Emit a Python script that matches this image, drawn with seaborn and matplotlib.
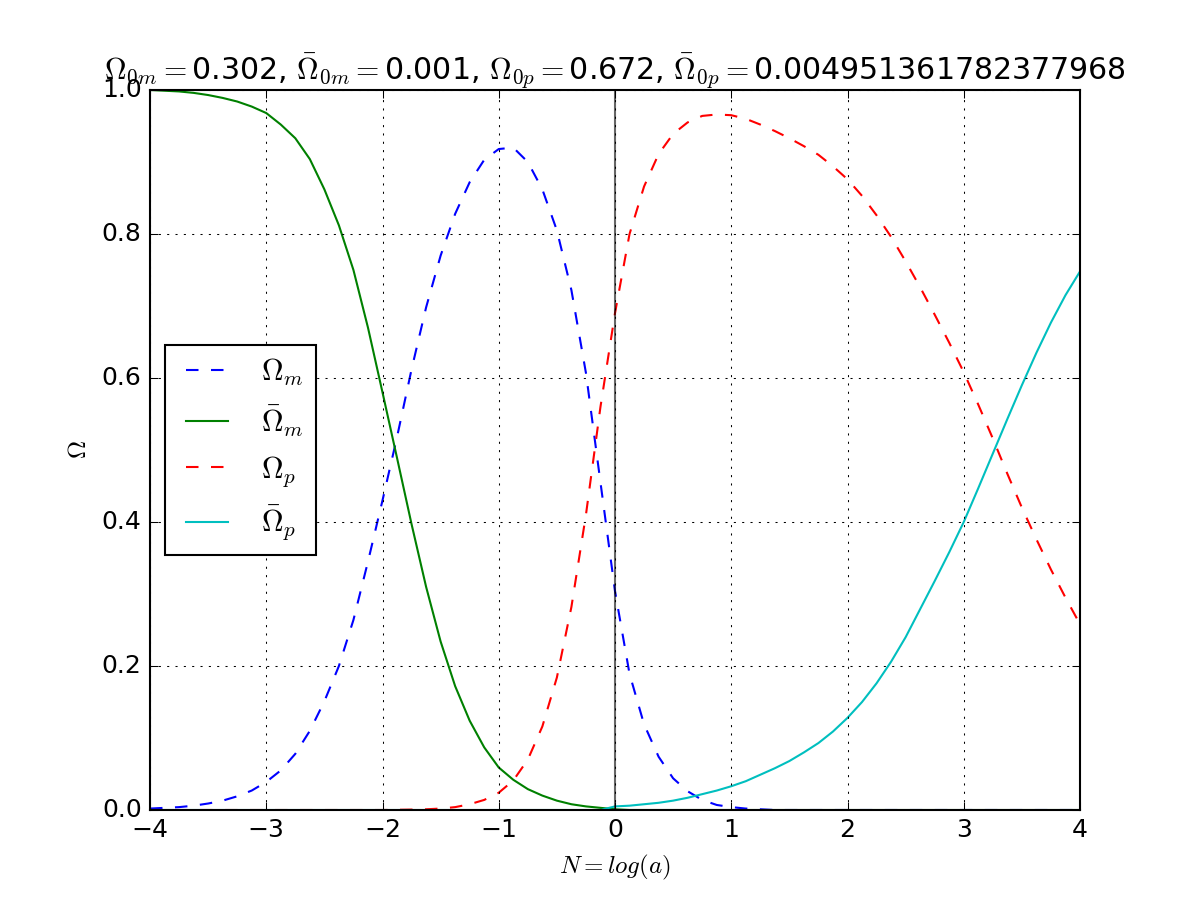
"""
Density parameters vs N = log(a): matter and phantom components and their barred partners.
"""
import matplotlib
matplotlib.use('Agg')
import matplotlib.pyplot as plt
import seaborn as sns

plt.style.use('classic')

n_vals = [-4, -3.875, -3.75, -3.625, -3.5, -3.375, -3.25, -3.125,
          -3, -2.875, -2.75, -2.625, -2.5, -2.375, -2.25, -2.125,
          -2, -1.875, -1.75, -1.625, -1.5, -1.375, -1.25, -1.125,
          -1, -0.875, -0.75, -0.625, -0.5, -0.375, -0.25, -0.125,
          0, 0.125, 0.25, 0.375, 0.5, 0.625, 0.75, 0.875,
          1, 1.125, 1.25, 1.375, 1.5, 1.625, 1.75, 1.875,
          2, 2.125, 2.25, 2.375, 2.5, 2.625, 2.75, 2.875,
          3, 3.125, 3.25, 3.375, 3.5, 3.625, 3.75, 3.875, 4]

omega_m = [0.002, 0.003, 0.004, 0.006, 0.009, 0.013, 0.019, 0.027,
           0.039, 0.055, 0.078, 0.110, 0.151, 0.200, 0.264, 0.345,
           0.430, 0.518, 0.612, 0.698, 0.770, 0.828, 0.872, 0.903,
           0.918, 0.920, 0.900, 0.862, 0.805, 0.722, 0.607, 0.455,
           0.304, 0.189, 0.119, 0.074, 0.044, 0.026, 0.014, 0.007,
           0.004, 0.002, 0.001, 0, 0, 0, 0, 0,
           0, 0, 0, 0, 0, 0, 0, 0,
           0, 0, 0, 0, 0, 0, 0, 0, 0]

omega_bar_m = [1.000, 0.999, 0.998, 0.996, 0.993, 0.989, 0.984, 0.977,
               0.968, 0.952, 0.933, 0.904, 0.862, 0.812, 0.750, 0.670,
               0.580, 0.489, 0.397, 0.310, 0.234, 0.172, 0.124, 0.087,
               0.059, 0.042, 0.029, 0.020, 0.013, 0.008, 0.005, 0.003,
               0.001, 0, 0, 0, 0, 0, 0, 0,
               0, 0, 0, 0, 0, 0, 0, 0,
               0, 0, 0, 0, 0, 0, 0, 0,
               0, 0, 0, 0, 0, 0, 0, 0, 0]

omega_p = [0, 0, 0, 0, 0, 0, 0, 0,
           0, 0, 0, 0, 0, 0, 0, 0,
           0, 0.0003, 0.0006, 0.001, 0.002, 0.004, 0.008, 0.014,
           0.024, 0.041, 0.070, 0.116, 0.184, 0.282, 0.410, 0.560,
           0.690, 0.800, 0.866, 0.911, 0.939, 0.955, 0.964, 0.966,
           0.965, 0.960, 0.952, 0.943, 0.933, 0.922, 0.910, 0.894,
           0.876, 0.853, 0.826, 0.796, 0.762, 0.726, 0.688, 0.649,
           0.608, 0.563, 0.516, 0.467, 0.420, 0.376, 0.334, 0.295, 0.258]

omega_bar_p = [0, 0, 0, 0, 0, 0, 0, 0,
               0, 0, 0, 0, 0, 0, 0, 0,
               0, 0, 0, 0, 0, 0, 0, 0,
               0, 0, 0, 0, 0, 0, 0, 0,
               0.005, 0.006, 0.008, 0.010, 0.013, 0.017, 0.022, 0.027,
               0.033, 0.040, 0.049, 0.058, 0.068, 0.080, 0.093, 0.109,
               0.128, 0.150, 0.176, 0.206, 0.240, 0.279, 0.318, 0.358,
               0.400, 0.447, 0.495, 0.543, 0.590, 0.635, 0.677, 0.715, 0.748]

series = [
    (omega_m, r'$\Omega_m$', 'b', '--'),
    (omega_bar_m, r'$\bar\Omega_m$', 'g', '-'),
    (omega_p, r'$\Omega_p$', 'r', '--'),
    (omega_bar_p, r'$\bar\Omega_p$', 'c', '-'),
]

fig, ax = plt.subplots(figsize=(8, 6), dpi=150)

for vals, lab, col, ls in series:
    sns.lineplot(x=n_vals, y=vals, ax=ax, color=col, linestyle=ls, label=lab, sort=False)

ax.axvline(0, color='k', alpha=0.6, lw=1)
ax.set_xlim(-4, 4)
ax.set_ylim(0, 1)
ax.grid(True)

ax.set_xlabel(r'$N=log(a)$')
ax.set_ylabel(r'$\Omega$')
ax.set_title(r'$\Omega_{0m}=$0.302, $\bar\Omega_{0m}=$0.001, '
             r'$\Omega_{0p}=$0.672, $\bar\Omega_{0p}=$0.004951361782377968')
ax.legend(loc='center left')

plt.savefig('out.png', dpi=150)
